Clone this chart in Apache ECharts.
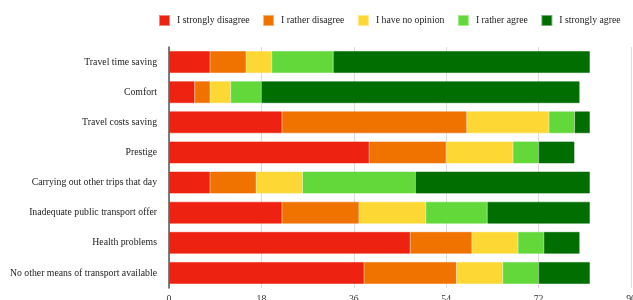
<!DOCTYPE html>
<html><head><meta charset="utf-8">
<script src="https://cdn.jsdelivr.net/npm/echarts@6/dist/echarts.min.js"></script>
<style>html,body{margin:0;padding:0;background:#fff}#c{width:633px;height:300px}</style>
</head><body><div id="c"></div>
<script>
const categories = ["Travel time saving","Comfort","Travel costs saving","Prestige","Carrying out other trips that day","Inadequate public transport offer","Health problems","No other means of transport available"];
const seriesNames = ["I strongly disagree","I rather disagree","I have no opinion","I rather agree","I strongly agree"];
const stronglyDisagree = [8, 5, 22, 39, 8, 22, 47, 38];
const ratherDisagree   = [7, 3, 36, 15, 9, 15, 12, 18];
const noOpinion        = [5, 4, 16, 13, 9, 13, 9, 9];
const ratherAgree      = [12, 6, 5, 5, 22, 12, 5, 7];
const stronglyAgree    = [50, 62, 3, 7, 34, 20, 7, 10];
const xTicks = [0, 18, 36, 54, 72, 90];
const colors = ["#EE2211","#F07300","#FDD835","#62D83A","#006E00"];
const borders = ["rgba(238,34,17,0.55)","rgba(240,115,0,0.55)","rgba(253,216,53,0.55)","rgba(98,216,58,0.55)","rgba(0,110,0,0.55)"];
const values = [stronglyDisagree, ratherDisagree, noOpinion, ratherAgree, stronglyAgree];
const font = "'Liberation Serif','Times New Roman',serif";
const chart = echarts.init(document.getElementById('c'));
chart.setOption({
  animation:false,
  textStyle:{fontFamily:font},
  legend:{
    top:15, left:159, width:474, itemWidth:9, itemHeight:9, itemGap:13.5,
    icon:'rect', padding:0,
    textStyle:{fontFamily:font, fontSize:9.75, color:'#222', padding:[0,0,0,3]},
    data:seriesNames
  },
  grid:{left:169, right:2, top:47, bottom:12, containLabel:false, outerBoundsMode:'none'},
  xAxis:{
    type:'value', min:xTicks[0], max:xTicks[xTicks.length-1], interval:18,
    axisLine:{show:false}, axisTick:{show:false},
    axisLabel:{fontFamily:font, fontSize:9.75, color:'#333', margin:6},
    splitLine:{lineStyle:{color:'#ddd'}}
  },
  yAxis:{
    type:'category', inverse:true, data:categories,
    axisLine:{show:true, lineStyle:{color:'#555', width:1.5}},
    axisTick:{show:false},
    axisLabel:{fontFamily:font, fontSize:9.75, color:'#222', margin:12}
  },
  series: seriesNames.map((n,i)=>({
    name:n, type:'bar', stack:'all', data:values[i], barWidth:22,
    itemStyle:{color:colors[i], borderColor:borders[i], borderWidth:1}
  }))
});
</script></body></html>
